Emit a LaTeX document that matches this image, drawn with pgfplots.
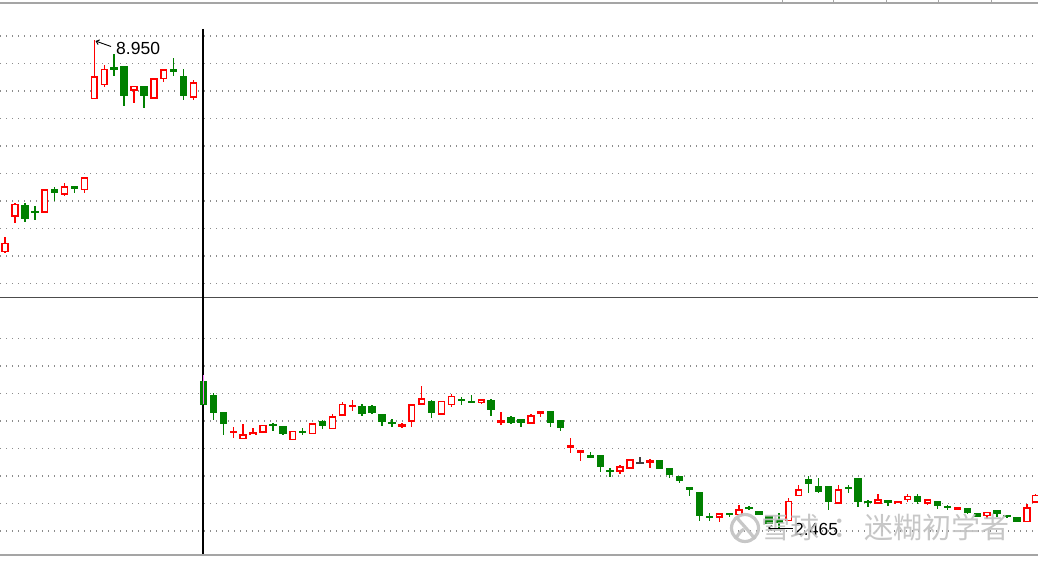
\documentclass[border=0pt]{standalone}
\usepackage{pgfplots}
\usepackage{pgfplotstable}
\usepackage{fontspec}
\setmainfont{Liberation Sans}
\newfontfamily\cjk{Noto Sans CJK SC}
\pgfplotsset{compat=1.18}
\usetikzlibrary{arrows.meta}

\definecolor{upred}{RGB}{255,0,0}
\definecolor{downgreen}{RGB}{0,128,0}
\definecolor{dojigray}{RGB}{64,64,64}
\definecolor{gridgray}{RGB}{140,140,140}
\definecolor{framegray}{RGB}{165,165,165}
\definecolor{cursorpink}{RGB}{255,120,255}
\definecolor{wmgray}{RGB}{195,195,195}

% candles: x, body top, body bottom, wick high, wick low (screen units, y down)
\pgfplotstableread{
x top bot hi lo
5.0 243 252 237 253
14.9 204 216.7 202.7 223
44.7 189.3 212.3 189.3 212.3
64.5 186.7 194.3 183.3 195.7
84.4 177.3 190 177.3 193.3
94.3 76.7 99 40 99
104.2 69 85 65 87.3
134.0 86 90.7 86 102.7
153.8 78.3 98.3 78.3 98.3
163.7 69.3 79 69.3 82.3
193.5 82.7 97.3 80 100
233.2 431 433 427.3 438.3
243.1 434.3 439 424.3 439
253.0 432.3 435 428.3 435
262.9 425 432.3 425 432.3
292.7 431 440 431 440
312.5 423.3 434 423.3 434
332.4 416.7 429 414.3 429
342.3 404 415.7 401.7 415.7
352.2 405 407 400 411
401.8 424.7 426.7 423 428.3
411.7 404.3 421.7 404.3 426.7
421.6 398.3 404.3 386 404.3
441.5 401 414.3 401 414.3
451.4 396 405 394.3 406.7
481.2 399.3 402.7 399.3 404.3
501.0 420.7 422.7 411.7 425
530.8 415.7 423.3 414.3 423.3
540.7 411.7 414 411.7 416.7
570.4 445.7 447.7 438.3 452.7
580.4 450 452.3 450 460.7
620.0 466.7 471.7 465 474
630.0 459.3 468.3 459.3 469.3
649.8 460.7 462.7 459.3 468.3
719.2 513.3 517.3 513.3 521.7
739.1 509.3 515 505 515
788.7 501 521 497.5 521
798.6 489.3 496 485 496
838.3 489.3 503.3 485 503.3
878.0 499.3 503.3 494 503.3
897.8 501.3 504 501.3 504
907.7 496 500 494 501.7
927.6 499.3 503.5 499.3 505
957.3 507.5 509.3 507.5 509.3
987.1 512 516 512 519.3
1026.8 507.5 522 504 522
1035.5 495 502.5 494 502.5
}\upcandles

\pgfplotstableread{
x top bot hi lo
24.8 205 219 203.3 221.7
34.8 211 212.5 205.7 220
54.6 189.3 192.7 187.3 200.7
74.4 186.7 188.7 186.7 193.3
114.1 67.7 70 54 76
124.0 66 96 66 106
143.9 86 96 86 107.7
173.6 69.7 71.5 58.3 76
183.6 76.7 95.7 69 100
203.4 381.7 404.3 381.7 404.3
213.3 395.7 412.3 393.3 420
223.2 412.3 423.3 412.3 435
272.8 424.3 426 422.7 431
282.8 426.7 433.3 426.7 435
302.6 431.5 433 428.3 435
322.4 421 425.7 420 429
362.1 406.7 413.3 404.3 415.7
372.0 406.7 412.3 405 414.3
382.0 414.3 421.7 414.3 425.7
391.9 422 423.5 419 426.7
431.6 401.7 412.3 400 417.7
461.3 399.3 401 396.7 405
471.2 401.5 403 395 403
491.1 400 410 399 415.7
510.9 417.7 422.3 415.7 424.3
520.8 419 422.3 419 426.7
550.6 411.7 422.7 411.7 427.3
560.5 420.7 427.3 420.7 430.7
590.3 455.5 457.3 451.7 457.3
600.2 455 466.7 455 472.3
610.1 470.3 472 468.3 477.3
659.7 460.7 468.3 460.7 468.3
669.6 468.3 475 468.3 478.3
679.6 476 480.7 476 483.3
689.5 487.7 489.3 487.7 496
699.4 492.7 516 492.7 520.7
709.3 516.5 518 513.3 520.7
729.2 513.3 514.8 512.7 516.7
749.0 507 508.5 506 510
758.9 511.7 515 511.7 515
768.8 516.7 523.3 516.7 523.3
778.8 520 523 513 528
808.5 479 484 476 493
818.4 486 491.7 478 493
828.4 486 501.7 486 510
848.2 487.5 489 485 493
858.1 478.3 501.7 478.3 506.7
868.0 501.5 503 500 507
887.9 500 502.7 500 506
917.6 496 501.7 494 504
937.5 501.7 506 501.7 509.3
947.4 506.8 508.2 505 510
967.2 508.3 513 508.3 514
977.2 513.3 516.7 513.3 516.7
997.0 510.7 513.3 510.7 516.7
1006.9 515 516.5 515 518.5
1016.8 517.3 521.7 517.3 521.7
}\downcandles

\pgfplotstableread{
x top bot hi lo
639.9 462 463.5 456.7 463.5
}\dojicandles

\pgfplotsset{
  bar from table/.style 2 args={draw=none, mark=none, forget plot,
    error bars/y dir=both, error bars/y explicit, error bars/error mark=none,
    error bars/error bar style={line width=#2, draw=#1}},
}

\begin{document}
\begin{tikzpicture}
\begin{axis}[
  width=1038pt, height=561pt, scale only axis,
  xmin=0, xmax=1038, ymin=0, ymax=561, y dir=reverse,
  hide axis, clip=true,
]
\fill[white] (0,0) rectangle (1038,561);

% dotted grid
\pgfplotsinvokeforeach{36,63.5,91,118.5,146,173.5,201,228.5,256,283.5,338.5,366,393.5,421,448.5,476,503.5,531}{
  \draw[gridgray, line width=1.1pt, dash pattern=on 1.1pt off 4.9pt] (0,#1) -- (1038,#1);
}

% frame lines
\draw[framegray, line width=1.5pt] (0,3) -- (1038,3);
\pgfplotsinvokeforeach{782,833,886,938,991}{
  \draw[framegray, line width=1pt] (#1,0) -- (#1,3);
}
\draw[black!70, line width=1.8pt] (0,297.5) -- (1038,297.5);
\draw[framegray, line width=2pt] (0,554.5) -- (1038,554.5);

% cursor
\draw[black, line width=1.9pt] (203.4,29) -- (203.4,554);

% rising candles (hollow red)
\addplot[bar from table={upred}{1.4pt}] table[x=x, y expr={(\thisrow{hi}+\thisrow{lo})/2}, y error expr={(\thisrow{lo}-\thisrow{hi})/2}] {\upcandles};
\addplot[bar from table={upred}{7.4pt}] table[x=x, y expr={(\thisrow{top}+\thisrow{bot})/2}, y error expr={max((\thisrow{bot}-\thisrow{top})/2+0.3,1.1)}] {\upcandles};
\addplot[bar from table={white}{4.2pt}] table[x=x, y expr={(\thisrow{top}+\thisrow{bot})/2}, y error expr={max((\thisrow{bot}-\thisrow{top})/2-1.3,0)}] {\upcandles};

% falling candles (filled green)
\addplot[bar from table={downgreen}{1.4pt}] table[x=x, y expr={(\thisrow{hi}+\thisrow{lo})/2}, y error expr={(\thisrow{lo}-\thisrow{hi})/2}] {\downcandles};
\addplot[bar from table={downgreen}{7.4pt}] table[x=x, y expr={(\thisrow{top}+\thisrow{bot})/2}, y error expr={max((\thisrow{bot}-\thisrow{top})/2+0.3,1)}] {\downcandles};

% doji
\addplot[bar from table={dojigray}{1.4pt}] table[x=x, y expr={(\thisrow{hi}+\thisrow{lo})/2}, y error expr={(\thisrow{lo}-\thisrow{hi})/2}] {\dojicandles};
\addplot[bar from table={dojigray}{7.4pt}] table[x=x, y expr={(\thisrow{top}+\thisrow{bot})/2}, y error expr={max((\thisrow{bot}-\thisrow{top})/2,1)}] {\dojicandles};

% highlighted candle under the cursor
\addplot[cursorpink, line width=1.2pt, forget plot] coordinates {(203.4,375) (203.4,404)};

% high / low markers
\draw[black, line width=0.9pt, -{Straight Barb[length=3pt,width=5pt]}] (111,46.5) -- (95.5,41);
\node[anchor=west, font=\fontsize{17.5}{20}\selectfont, inner sep=0pt] at (116,48.5) {8.950};
\draw[black, line width=0.9pt, -{Straight Barb[length=3pt,width=5pt]}] (793,528) -- (768,528);
\node[anchor=west, font=\fontsize{17.5}{20}\selectfont, inner sep=0pt] at (794,529.5) {2.465};

% watermark
\begin{scope}[opacity=0.92]
\draw[wmgray, line width=3.2pt] (745,528) circle[radius=13.5pt];
\draw[wmgray, line width=3.2pt] (737,518) .. controls (744,526) and (748,530) .. (755,539);
\draw[wmgray, line width=3.2pt] (736,538) .. controls (740,532) .. (744,529);
\node[anchor=west, text=wmgray, font=\cjk\fontsize{29}{31}\selectfont, inner sep=0pt] at (761,528) {雪球};
\node[text=wmgray, font=\cjk\fontsize{29}{31}\selectfont, inner sep=0pt] at (847,528) {：};
\node[anchor=west, text=wmgray, font=\cjk\fontsize{29}{31}\selectfont, inner sep=0pt] at (864,528) {迷糊初学者};
\end{scope}
\end{axis}
\end{tikzpicture}
\end{document}
